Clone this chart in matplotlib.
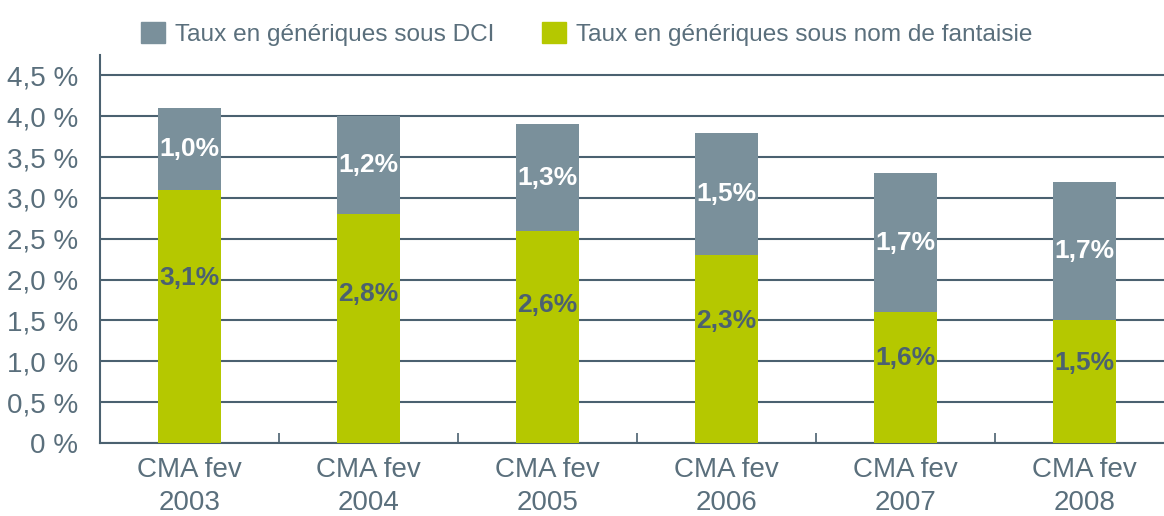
import matplotlib.pyplot as plt
import numpy as np
from matplotlib.patches import Patch
from matplotlib.ticker import FixedLocator

periods = ["CMA fev\n2003", "CMA fev\n2004", "CMA fev\n2005",
           "CMA fev\n2006", "CMA fev\n2007", "CMA fev\n2008"]
fantaisie = [3.1, 2.8, 2.6, 2.3, 1.6, 1.5]
dci = [1.0, 1.2, 1.3, 1.5, 1.7, 1.7]
series_names = ["Taux en génériques sous DCI",
                "Taux en génériques sous nom de fantaisie"]

grey = "#7a909b"
green = "#b5c800"
ink = "#4b6170"
text_col = "#5a6f7c"

plt.rcParams["font.family"] = ["Liberation Sans", "DejaVu Sans"]

fig = plt.figure(figsize=(11.64, 5.16), dpi=100)
ax = fig.add_axes([100 / 1164, 73 / 516, 1074 / 1164, (443 - 55) / 516])

x = np.arange(len(periods))
w = 0.35
ax.bar(x, fantaisie, width=w, color=green, zorder=3)
ax.bar(x, dci, width=w, bottom=fantaisie, color=grey, zorder=3)

def fmt(v):
    return f"{v:.1f}%".replace(".", ",")

for i in range(len(x)):
    ax.text(x[i], fantaisie[i] * 0.65, fmt(fantaisie[i]), ha="center", va="center",
            fontsize=19, fontweight="bold", color=ink, zorder=4)
    ax.text(x[i], fantaisie[i] + dci[i] / 2, fmt(dci[i]), ha="center", va="center",
            fontsize=19, fontweight="bold", color="white", zorder=4)

ax.set_xlim(-0.5, len(x) - 0.5)
ax.set_ylim(0, 4.75)
yt = np.arange(0, 4.51, 0.5)
ax.set_yticks(yt)
ax.set_yticklabels(["0 %"] + [f"{v:.1f} %".replace(".", ",") for v in yt[1:]])
ax.set_xticks(x)
ax.set_xticklabels(periods)
ax.xaxis.set_minor_locator(FixedLocator(x[:-1] + 0.5))

ax.tick_params(axis="both", which="major", length=0, labelsize=20, colors=text_col)
ax.tick_params(axis="x", which="major", pad=10)
ax.tick_params(axis="y", which="major", pad=16)
ax.tick_params(axis="x", which="minor", direction="in", length=7, width=1.2, color=ink)
for lab in ax.get_xticklabels():
    lab.set_linespacing(1.35)

ax.yaxis.grid(True, color=ink, linewidth=1.5, zorder=1)
for s in ["top", "right"]:
    ax.spines[s].set_visible(False)
for s in ["left", "bottom"]:
    ax.spines[s].set_color(ink)
    ax.spines[s].set_linewidth(1.5)

handles = [Patch(color=grey), Patch(color=green)]
fig.legend(handles, series_names, loc="upper left", bbox_to_anchor=(0.1022, 1.0),
           ncol=2, frameon=False, fontsize=17.6, handlelength=0.97, handleheight=0.97,
           handletextpad=0.42, columnspacing=1.95, labelcolor=text_col)

fig.savefig("out.png", dpi=100)
